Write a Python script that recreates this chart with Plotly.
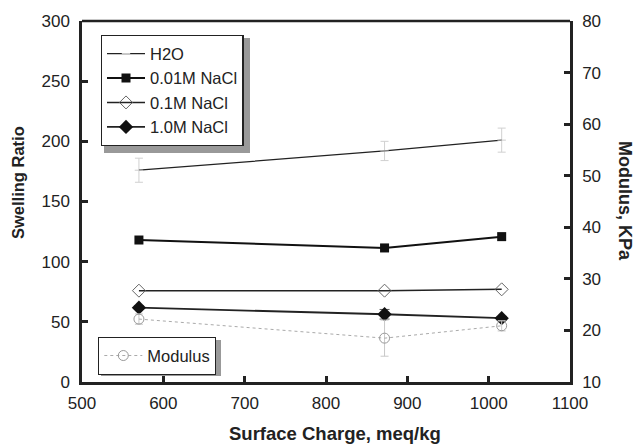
import plotly.graph_objects as go

charge = [570, 872, 1016]
h2o = [176, 192, 201]
h2o_err = [10, 8, 10]
nacl_001 = [118, 111.4, 120.8]
nacl_001_err = [2, 3, 3]
nacl_01 = [75.9, 75.9, 77]
nacl_10 = [61.8, 56.3, 53]
nacl_10_err = [1.5, 4, 1.5]
modulus = [22.2, 18.5, 20.9]
modulus_err = [1, 3.5, 1]

FONT = "Liberation Sans, Arial, sans-serif"
INK = "#222"

L, R, T, B = 82, 68, 21, 62
W, H = 638, 444
PW, PH = W - L - R, H - T - B


def px(x):
    return (x - L) / PW


def py(y):
    return (H - B - y) / PH


fig = go.Figure()
fig.add_trace(go.Scatter(
    x=charge, y=h2o, name="H2O", mode="lines+markers", legendgroup="a",
    line=dict(color=INK, width=1.3),
    marker=dict(symbol="line-ew", size=6, color="#ccc", line=dict(color="#ccc", width=1)),
    error_y=dict(type="data", array=h2o_err, color="#d0d0d0", thickness=1, width=4),
    legend="legend"))
fig.add_trace(go.Scatter(
    x=charge, y=nacl_001, name="0.01M NaCl", mode="lines+markers", legendgroup="b",
    line=dict(color="#111", width=2),
    marker=dict(symbol="square", size=9, color="#111"),
    error_y=dict(type="data", array=nacl_001_err, color="#aaa", thickness=1, width=4),
    legend="legend"))
fig.add_trace(go.Scatter(
    x=charge, y=nacl_01, name="0.1M NaCl", mode="lines+markers", legendgroup="c",
    line=dict(color=INK, width=1.5),
    marker=dict(symbol="diamond-open", size=10, color="#666", line=dict(width=1)),
    legend="legend"))
fig.add_trace(go.Scatter(
    x=charge, y=nacl_10, name="1.0M NaCl", mode="lines+markers", legendgroup="d",
    line=dict(color=INK, width=1.8),
    marker=dict(symbol="diamond", size=11, color="#111"),
    error_y=dict(type="data", array=nacl_10_err, color="#555", thickness=1, width=5),
    legend="legend"))
fig.add_trace(go.Scatter(
    x=charge, y=modulus, name="Modulus", mode="lines+markers", yaxis="y2",
    line=dict(color="#aaa", width=1, dash="dot"),
    marker=dict(symbol="circle-open", size=10, color="#999", line=dict(width=1)),
    error_y=dict(type="data", array=modulus_err, color="#c8c8c8", thickness=1, width=4),
    legend="legend2"))

axis_common = dict(showline=True, linecolor=INK, linewidth=2.5, ticks="inside",
                   ticklen=6, tickwidth=2.5, tickcolor=INK, showgrid=False,
                   zeroline=False, tickfont=dict(family=FONT, size=17, color=INK))

legend_common = dict(bgcolor="white", bordercolor=INK, borderwidth=1.3,
                     font=dict(family=FONT, size=16.5, color=INK),
                     itemwidth=38, xanchor="left", yanchor="top")

fig.update_layout(
    width=W, height=H,
    margin=dict(l=L, r=R, t=T, b=B),
    paper_bgcolor="white", plot_bgcolor="white",
    font=dict(family=FONT, color=INK),
    xaxis=dict(range=[500, 1100], dtick=100, ticklabelstandoff=4, **axis_common),
    yaxis=dict(range=[0, 300], dtick=50, ticklabelstandoff=6, **axis_common),
    yaxis2=dict(range=[10, 80], dtick=10, overlaying="y", side="right",
                ticklabelstandoff=6, **axis_common),
    legend=dict(x=px(100.7), y=py(35), tracegroupgap=0, **legend_common),
    legend2=dict(x=px(98), y=py(337), **legend_common),
    annotations=[
        dict(text="<b>Modulus, KPa</b>", textangle=90, xref="paper", yref="paper",
             x=px(625), y=py(201), showarrow=False, xanchor="center", yanchor="middle",
             font=dict(family=FONT, size=18, color=INK)),
        dict(text="<b>Swelling Ratio</b>", textangle=-90, xref="paper", yref="paper",
             x=px(18), y=py(183), showarrow=False, xanchor="center", yanchor="middle",
             font=dict(family=FONT, size=16.5, color=INK)),
        dict(text="<b>Surface Charge, meq/kg</b>", xref="paper", yref="paper",
             x=px(335), y=py(433), showarrow=False, xanchor="center", yanchor="middle",
             font=dict(family=FONT, size=18.5, color=INK)),
    ],
    showlegend=True,
)
# top border line
fig.add_shape(type="line", xref="paper", yref="paper", x0=0, x1=1, y0=1, y1=1,
              line=dict(color=INK, width=2.5))
# legend shadows (thin offset edges)
fig.add_shape(type="rect", xref="paper", yref="paper",
              x0=px(104), x1=px(250), y0=py(153), y1=py(38),
              fillcolor="#999", line=dict(width=0), layer="above")
fig.add_shape(type="rect", xref="paper", yref="paper",
              x0=px(101), x1=px(221), y0=py(376), y1=py(340),
              fillcolor="#999", line=dict(width=0), layer="above")

fig.write_html("out.html")
